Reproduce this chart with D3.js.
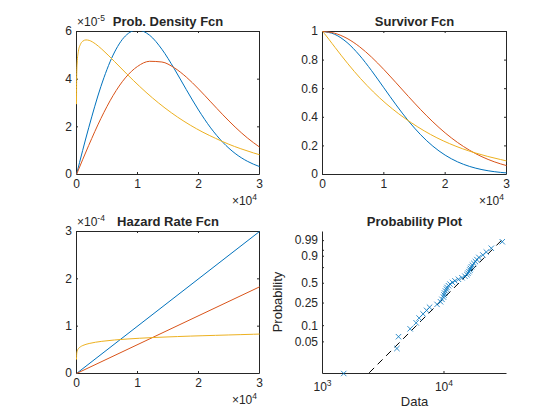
<!DOCTYPE html>
<html><head><meta charset="utf-8">
<script src="https://cdn.jsdelivr.net/npm/d3@7/dist/d3.min.js"></script>
<style>
body{margin:0;background:#fff}
svg text{font-family:"Liberation Sans",Arial,Helvetica,sans-serif;fill:#262626}
</style></head><body>
<svg id="fig" width="560" height="420"></svg>
<script>
// ---------------- data ----------------
const timeGrid = [0,2000,4000,6000,8000,10000,12000,14000,16000,18000,20000,22000,24000,26000,28000,30000];
const pdfBlue  = [0,1.960e-5,3.692e-5,5.012e-5,5.809e-5,6.065e-5,5.841e-5,5.254e-5,4.449e-5,3.562e-5,2.707e-5,1.956e-5,1.347e-5,0.885e-5,0.556e-5,0.333e-5];
const pdfRed   = [0,1.219e-5,2.350e-5,3.314e-5,4.053e-5,4.534e-5,4.750e-5,4.720e-5,4.482e-5,4.088e-5,3.592e-5,3.049e-5,2.504e-5,1.992e-5,1.537e-5,1.152e-5];
const survBlue = [1,0.9802,0.9231,0.8353,0.7262,0.6065,0.4868,0.3753,0.2780,0.1979,0.1353,0.0889,0.0561,0.0341,0.0198,0.0111];
const survRed  = [1,0.9877,0.9518,0.8948,0.8208,0.7344,0.6412,0.5461,0.4538,0.3679,0.2909,0.2245,0.1690,0.1241,0.0889,0.0622];

const timeGridYellow = [0,21,104,311,622,1036,1554,2073,3109,4145,6217,8290,10362,12435,14507,16580,18652,20725,22797,24870,26942,29015,30000];
const pdfYellow  = [2.95e-5,3.998e-5,4.678e-5,5.169e-5,5.446e-5,5.595e-5,5.647e-5,5.627e-5,5.479e-5,5.260e-5,4.744e-5,4.207e-5,3.693e-5,3.218e-5,2.789e-5,2.407e-5,2.070e-5,1.774e-5,1.517e-5,1.280e-5,1.080e-5,0.905e-5,0.830e-5];
const survYellow = [1,0.99925,0.99558,0.98529,0.96872,0.94579,0.91662,0.88739,0.82975,0.77406,0.67030,0.57755,0.49578,0.42423,0.3613,0.3052,0.2567,0.2156,0.1807,0.1512,0.1263,0.1048,0.0950];
const hazYellow  = [2.95e-5,4.001e-5,4.700e-5,5.246e-5,5.622e-5,5.917e-5,6.161e-5,6.341e-5,6.604e-5,6.796e-5,7.078e-5,7.284e-5,7.449e-5,7.586e-5,7.703e-5,7.807e-5,7.900e-5,7.983e-5,8.060e-5,8.140e-5,8.215e-5,8.290e-5,8.330e-5];

const hazTime = [0,30000];
const hazBlue = [0,3.0e-4];
const hazRed  = [0,1.83e-4];

// probability plot data (sorted lifetimes and plotting positions)
const dataLife = [1495,4097,4222,5264,5896,6239,6728,7189,7605,8762,9361,9630,9906,10000,10095,10287,10484,10583,10887,11199,11741,12310,13150,14046,14866,15438,15732,16032,16338,16493,16807,17128,17619,18125,18645,19360,20879,22303,24513,30170];
const dataProb = [0.0125,0.0375,0.0625,0.0875,0.1125,0.1375,0.1625,0.1875,0.2125,0.2375,0.2625,0.2875,0.3125,0.3375,0.3625,0.3875,0.4125,0.4375,0.4625,0.4875,0.5125,0.5375,0.5625,0.5875,0.6125,0.6375,0.6625,0.6875,0.7125,0.7375,0.7625,0.7875,0.8125,0.8375,0.8625,0.8875,0.9125,0.9375,0.9625,0.9875];
const fitLife = [1495,30170];
const fitProb = [0.00417,0.9919];

const timeTicks = [0,10000,20000,30000];
const timeTickLabels = ['0','1','2','3'];
const pdfTicks = [0,2e-5,4e-5,6e-5];
const pdfTickLabels = ['0','2','4','6'];
const survTicks = [0,0.2,0.4,0.6,0.8,1];
const survTickLabels = ['0','0.2','0.4','0.6','0.8','1'];
const hazTicks = [0,1e-4,2e-4,3e-4];
const hazTickLabels = ['0','1','2','3'];
const probTicks = [0.05,0.1,0.25,0.5,0.75,0.9,0.95,0.99];
const probTickLabels = ['0.05','0.1','0.25','0.5','','0.9','','0.99'];
const lifeTicks = [1000,10000];
const lifeTickExp = ['3','4'];
const probXlim = [1000,32690];
const probYlim = [0.0125,0.999];

const titles = ['Prob. Density Fcn','Survivor Fcn','Hazard Rate Fcn','Probability Plot'];
const seriesColors = ['#0072BD','#D95319','#EDB120'];

// ---------------- drawing ----------------
const svg = d3.select('#fig');
const AX = '#262626';
const TICK = 2;

function styleAxis(g){
  g.attr('font-size',null).attr('font-family',null).attr('color',AX);
  g.selectAll('text').attr('font-size','12px').attr('fill',AX);
  g.selectAll('line,path').attr('stroke',AX).attr('stroke-width',1);
}

function addClip(id, box){
  const [l,t,r,b] = box;
  svg.append('clipPath').attr('id',id).append('rect')
    .attr('x',l).attr('y',t).attr('width',r-l+1).attr('height',b-t+1);
}

function expLabel(x, y, anchor, exp){
  const t = svg.append('text').attr('x',x).attr('y',y).attr('text-anchor',anchor).attr('font-size','12px');
  t.append('tspan').text('\u00d710');
  t.append('tspan').attr('font-size','8.5px').attr('dy','-5').text(exp);
}

function linearPanel(o){
  const [l,t,r,b] = o.box;
  const x = d3.scaleLinear().domain([0,30000]).range([l,r]);
  const y = d3.scaleLinear().domain(o.yDomain).range([b,t]);
  addClip(o.id, o.box);
  const xb = svg.append('g').attr('transform',`translate(0,${b})`)
    .call(d3.axisBottom(x).tickValues(timeTicks).tickFormat((d,i)=>timeTickLabels[i]).tickSizeInner(-TICK).tickSizeOuter(0).tickPadding(5));
  styleAxis(xb);
  const xt = svg.append('g').attr('transform',`translate(0,${t})`)
    .call(d3.axisTop(x).tickValues(timeTicks).tickFormat('').tickSizeInner(-TICK).tickSizeOuter(0));
  styleAxis(xt);
  const yl = svg.append('g').attr('transform',`translate(${l},0)`)
    .call(d3.axisLeft(y).tickValues(o.yTicks).tickFormat((d,i)=>o.yLabels[i]).tickSizeInner(-TICK).tickSizeOuter(0).tickPadding(4));
  styleAxis(yl);
  const yr = svg.append('g').attr('transform',`translate(${r},0)`)
    .call(d3.axisRight(y).tickValues(o.yTicks).tickFormat('').tickSizeInner(-TICK).tickSizeOuter(0));
  styleAxis(yr);
  const cg = svg.append('g').attr('clip-path',`url(#${o.id})`).append('g').attr('transform','translate(0.5,0.5)');
  o.series.forEach((s,k)=>{
    const line = d3.line().x((d,i)=>x(s.x[i])).y(d=>y(d)).curve(d3.curveMonotoneX);
    cg.append('path').attr('d',line(s.y)).attr('fill','none')
      .attr('stroke',seriesColors[k]).attr('stroke-width',1);
  });
  svg.append('text').attr('x',(l+r)/2+0.5).attr('y',t-5).attr('text-anchor','middle')
    .attr('font-size','13px').attr('font-weight','bold').text(o.title);
  expLabel(r-2, b+31, 'end', '4');
  if(o.yExp) expLabel(l+1, t-5, 'start', o.yExp);
}

linearPanel({id:'c1', box:[76,31,259,174], yDomain:[0,6e-5], yTicks:pdfTicks, yLabels:pdfTickLabels, title:titles[0], yExp:'-5',
  series:[{x:timeGrid,y:pdfBlue},{x:timeGrid,y:pdfRed},{x:timeGridYellow,y:pdfYellow}]});
linearPanel({id:'c2', box:[322,31,506,174], yDomain:[0,1], yTicks:survTicks, yLabels:survTickLabels, title:titles[1], yExp:null,
  series:[{x:timeGrid,y:survBlue},{x:timeGrid,y:survRed},{x:timeGridYellow,y:survYellow}]});
linearPanel({id:'c3', box:[76,231,259,373], yDomain:[0,3e-4], yTicks:hazTicks, yLabels:hazTickLabels, title:titles[2], yExp:'-4',
  series:[{x:hazTime,y:hazBlue},{x:hazTime,y:hazRed},{x:timeGridYellow,y:hazYellow}]});

// probability plot (Weibull paper)
(function(){
  const box = [322,231,506,373];
  const [l,t,r,b] = box;
  const wt = p => Math.log(-Math.log(1-p));
  const x = d3.scaleLog().domain(probXlim).range([l,r]);
  const y = d3.scaleLinear().domain(probYlim.map(wt)).range([b,t]);
  addClip('c4', box);
  const xb = svg.append('g').attr('transform',`translate(0,${b})`)
    .call(d3.axisBottom(x).tickValues(lifeTicks).tickFormat('').tickSizeInner(-TICK).tickSizeOuter(0));
  styleAxis(xb);
  lifeTicks.forEach((v,i)=>{
    const tx = svg.append('text').attr('x',x(v)+0.5).attr('y',b+18).attr('text-anchor','middle').attr('font-size','12px');
    tx.append('tspan').text('10');
    tx.append('tspan').attr('font-size','8.5px').attr('dy','-5').text(lifeTickExp[i]);
  });
  const yl = svg.append('g').attr('transform',`translate(${l},0)`)
    .call(d3.axisLeft(y).tickValues(probTicks.map(wt)).tickFormat((d,i)=>probTickLabels[i]).tickSizeInner(-TICK).tickSizeOuter(0).tickPadding(4));
  styleAxis(yl);
  const fit = d3.line().x((d,i)=>x(fitLife[i])).y(d=>y(wt(d)));
  svg.append('g').attr('clip-path','url(#c4)').append('path').attr('transform','translate(0.5,0.5)').attr('d',fit(fitProb))
    .attr('fill','none').attr('stroke','#000').attr('stroke-width',1).attr('stroke-dasharray','7,5');
  const s = 2.7;
  svg.append('g').attr('transform','translate(0.5,0.5)').selectAll('path').data(dataLife).join('path')
    .attr('transform',(d,i)=>`translate(${x(d)},${y(wt(dataProb[i]))})`)
    .attr('d',`M${-s},${-s}L${s},${s}M${-s},${s}L${s},${-s}`)
    .attr('stroke',seriesColors[0]).attr('stroke-width',0.8).attr('fill','none');
  svg.append('text').attr('x',(l+r)/2+0.5).attr('y',t-5).attr('text-anchor','middle')
    .attr('font-size','13px').attr('font-weight','bold').text(titles[3]);
  svg.append('text').attr('x',(l+r)/2+0.5).attr('y',b+33).attr('text-anchor','middle')
    .attr('font-size','13px').text('Data');
  svg.append('text').attr('transform',`translate(281.5,${(t+b)/2}) rotate(-90)`).attr('text-anchor','middle')
    .attr('font-size','13px').text('Probability');
})();
</script>
</body></html>
